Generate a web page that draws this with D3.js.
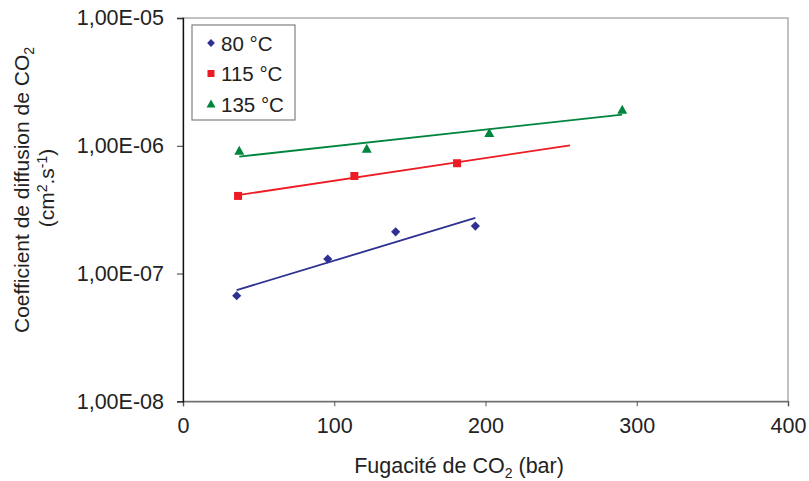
<!DOCTYPE html>
<html><head><meta charset="utf-8">
<script src="https://cdn.jsdelivr.net/npm/d3@7/dist/d3.min.js"></script>
<style>body{margin:0;background:#fff}svg{display:block;font-family:"Liberation Sans",Arial,sans-serif}</style>
</head><body><svg id="c" width="809" height="481"></svg>
<script>
const seriesNames = ["80 °C", "115 °C", "135 °C"];
const x80 = [35.5, 95.7, 140.6, 193.3];
const y80 = [6.7e-8, 1.30e-7, 2.12e-7, 2.35e-7];
const x115 = [36.4, 113.3, 181.2];
const y115 = [4.05e-7, 5.8e-7, 7.3e-7];
const x135 = [37.2, 121.5, 202.5, 290.4];
const y135 = [9.1e-7, 9.44e-7, 1.256e-6, 1.91e-6];
const trendEnd = [193.3, 255.9, 290.4];
const xTicks = [0, 100, 200, 300, 400];
const yTicks = [1e-5, 1e-6, 1e-7, 1e-8];
const yTickLabels = ["1,00E-05", "1,00E-06", "1,00E-07", "1,00E-08"];
const colors = ["#2e3192", "#ed1c24", "#00853e"];

const series = [[x80,y80],[x115,y115],[x135,y135]];
const svg = d3.select("#c");
const L = 183, T = 18, R = 788, B = 401.3;
const x = d3.scaleLinear().domain([0,400]).range([L,R]);
const y = d3.scaleLog().domain([1e-8,1e-5]).range([B,T]);

function marker(g, i, s){
  if(i===0) return g.append("rect").attr("x",-s/2).attr("y",-s/2).attr("width",s).attr("height",s).attr("transform","rotate(45)");
  if(i===1) return g.append("rect").attr("x",-s/2).attr("y",-s/2).attr("width",s).attr("height",s);
  const h = s*0.95;
  return g.append("path").attr("d",`M0,${-h*0.6}L${s/2+0.5},${h*0.45}L${-s/2-0.5},${h*0.45}Z`);
}

// plot border
svg.append("rect").attr("x",L).attr("y",T).attr("width",R-L).attr("height",B-T)
  .attr("fill","none").attr("stroke","#a0a0a0").attr("stroke-width",1.3);

// axes
const ax = svg.append("g").attr("transform",`translate(0,${B})`)
  .call(d3.axisBottom(x).tickValues(xTicks).tickSize(5).tickPadding(11));
ax.select(".domain").attr("stroke","#707070").attr("stroke-width",1.5);
ax.selectAll(".tick line").attr("stroke","#555");
ax.selectAll("text").attr("font-size",21.5).attr("fill","#222").attr("font-family","Liberation Sans, Arial, sans-serif");

const ay = svg.append("g").attr("transform",`translate(${L},0)`)
  .call(d3.axisLeft(y).tickValues(yTicks).tickFormat((d,i)=>yTickLabels[i]).tickSize(6).tickPadding(13));
ay.select(".domain").attr("stroke","#111").attr("stroke-width",1.3);
ay.selectAll(".tick line").attr("stroke","#333");
ay.selectAll("text").attr("font-size",21.5).attr("fill","#222").attr("font-family","Liberation Sans, Arial, sans-serif");

// trendlines (exponential least-squares fit)
series.forEach(([xs,ys],i)=>{
  const lx = ys.map(Math.log10);
  const mx = d3.mean(xs), my = d3.mean(lx);
  let sxy=0,sxx=0;
  xs.forEach((v,k)=>{sxy+=(v-mx)*(lx[k]-my);sxx+=(v-mx)*(v-mx);});
  const b = sxy/sxx, a = my - b*mx;
  const x0 = d3.min(xs), x1 = trendEnd[i];
  svg.append("line").attr("x1",x(x0)).attr("y1",y(Math.pow(10,a+b*x0)))
    .attr("x2",x(x1)).attr("y2",y(Math.pow(10,a+b*x1)))
    .attr("stroke",colors[i]).attr("stroke-width",1.8);
});
// points
const msize = [6.5, 8, 9];
series.forEach(([xs,ys],i)=>{
  xs.forEach((d,k)=>{
    const g = svg.append("g").attr("transform",`translate(${x(d)},${y(ys[k])})`);
    marker(g,i,msize[i]).attr("fill",colors[i]);
  });
});

// legend
const lg = svg.append("g");
lg.append("rect").attr("x",192).attr("y",25).attr("width",103).attr("height",95)
  .attr("fill","#fff").attr("stroke","#808080").attr("stroke-width",1.2);
seriesNames.forEach((n,i)=>{
  const cy = 43 + i*30.5;
  const g = lg.append("g").attr("transform",`translate(211,${cy})`);
  marker(g,i,[5.5,7,8][i]).attr("fill",colors[i]);
  lg.append("text").attr("x",221).attr("y",cy+7.5).attr("font-size",20.5).attr("fill","#222").text(n);
});

// axis titles
const xt = svg.append("text").attr("x",459).attr("y",473).attr("text-anchor","middle").attr("font-size",21.5).attr("fill","#222");
xt.append("tspan").text("Fugacité de CO");
xt.append("tspan").attr("font-size",14).attr("dy",5).text("2");
xt.append("tspan").attr("dy",-5).text(" (bar)");

const yt = svg.append("text").attr("transform","translate(29,190) rotate(-90)").attr("text-anchor","middle").attr("font-size",21).attr("fill","#222");
yt.append("tspan").text("Coefficient de diffusion de CO");
yt.append("tspan").attr("font-size",14).attr("dy",5).text("2");
const yt2 = svg.append("text").attr("transform","translate(54,188) rotate(-90)").attr("text-anchor","middle").attr("font-size",21).attr("fill","#222");
yt2.append("tspan").text("(cm");
yt2.append("tspan").attr("font-size",14).attr("dy",-7).text("2");
yt2.append("tspan").attr("dy",7).text(".s");
yt2.append("tspan").attr("font-size",14).attr("dy",-7).text("-1");
yt2.append("tspan").attr("dy",7).text(")");
</script></body></html>
